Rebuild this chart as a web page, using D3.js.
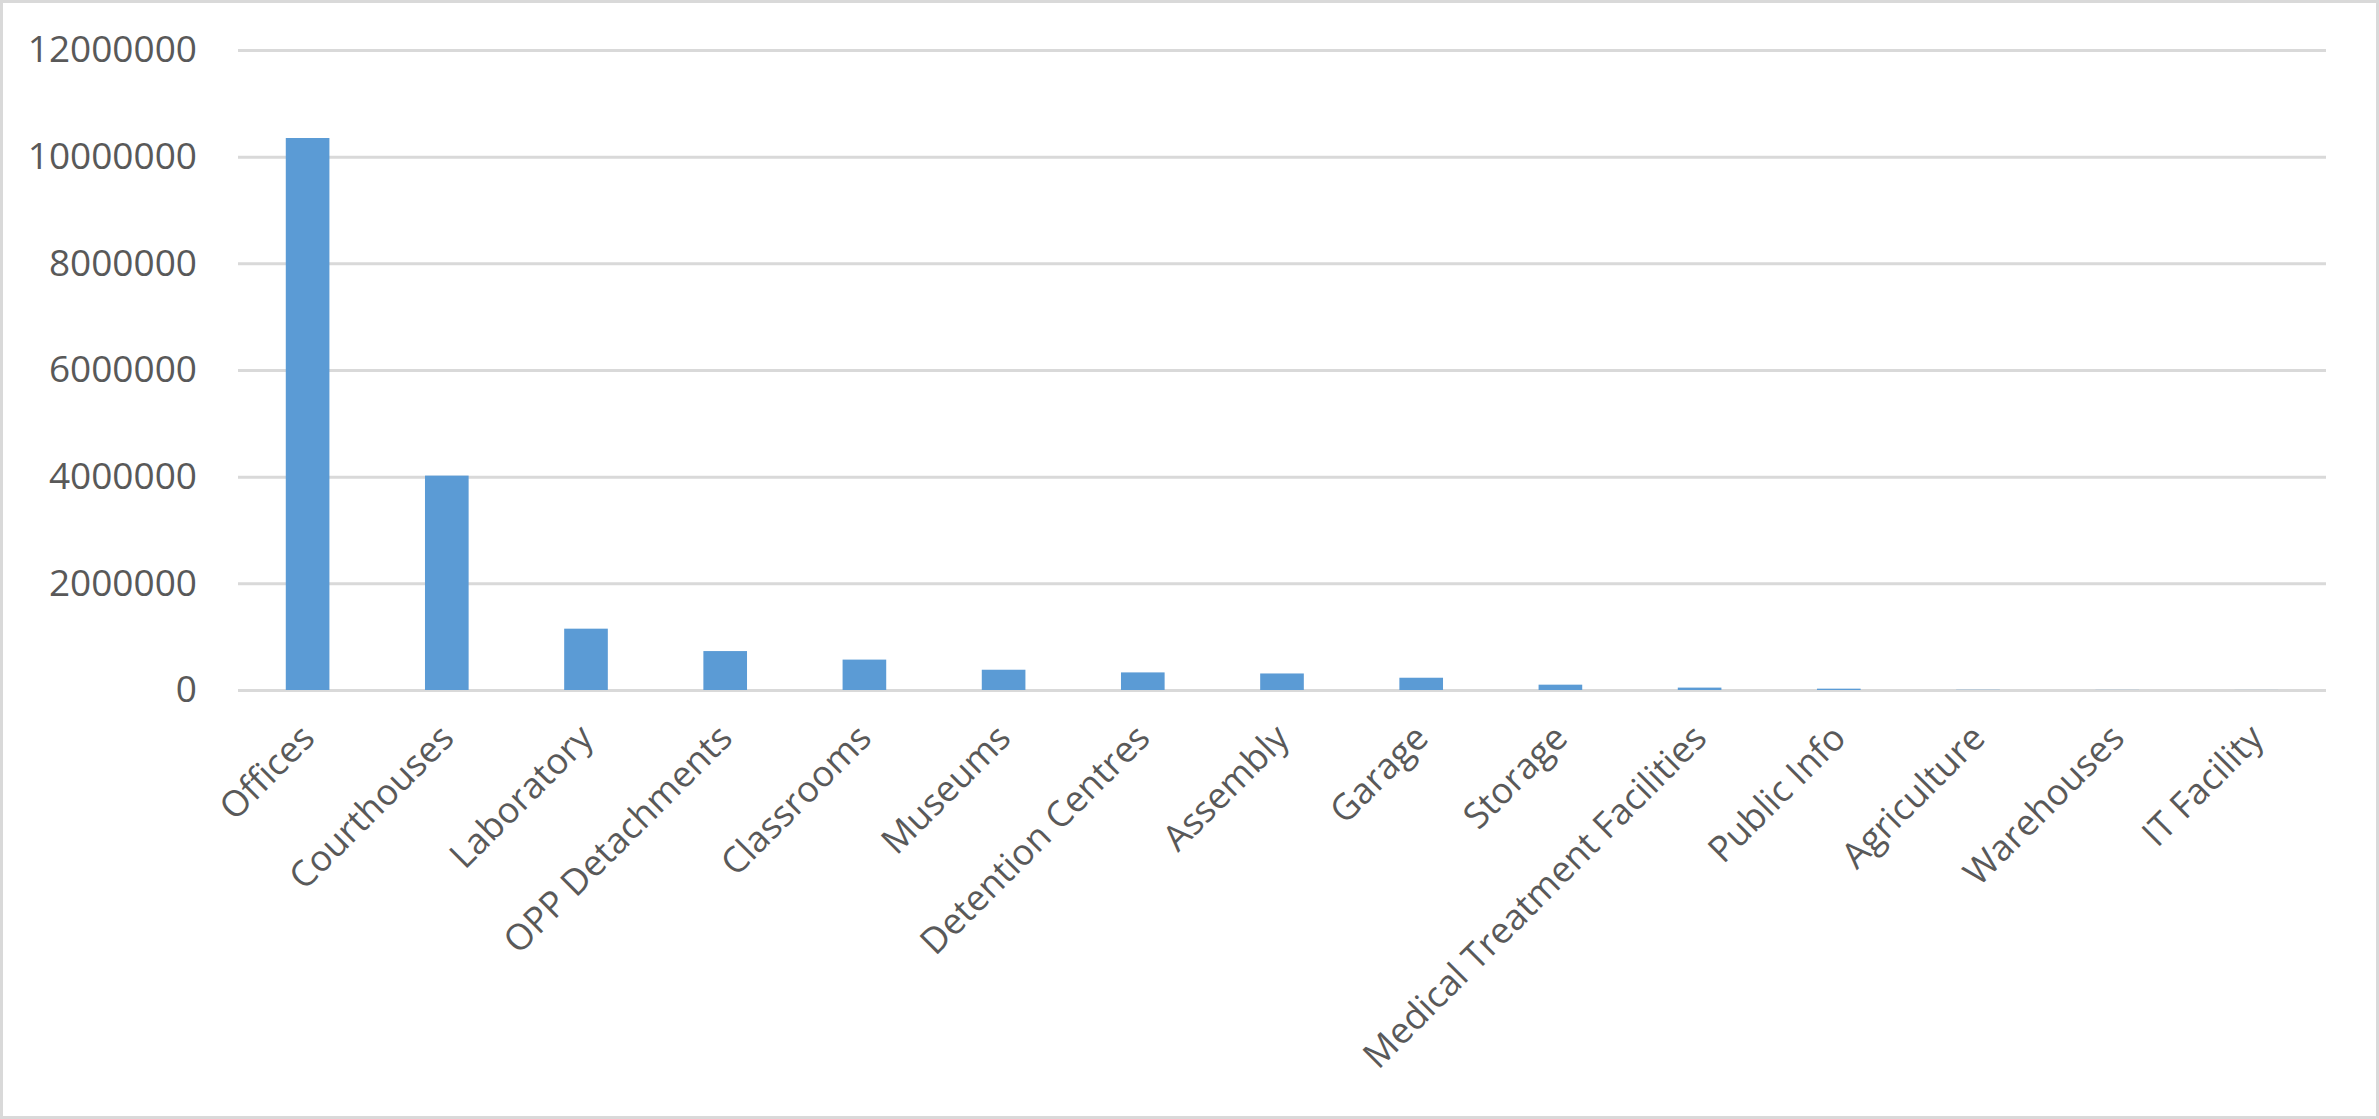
<!DOCTYPE html>
<html>
<head>
<meta charset="utf-8">
<script src="https://cdn.jsdelivr.net/npm/d3@7"></script>
<style>
  html, body { margin: 0; padding: 0; background: #fff; }
  svg { display: block; }
  text { font-family: "Open Sans", "Noto Sans", sans-serif; fill: #595959; }
</style>
</head>
<body>
<svg id="chart"></svg>
<script>
const categories = ["Offices", "Courthouses", "Laboratory", "OPP Detachments", "Classrooms",
  "Museums", "Detention Centres", "Assembly", "Garage", "Storage",
  "Medical Treatment Facilities", "Public Info", "Agriculture", "Warehouses", "IT Facility"];
const values = [10350000, 4020000, 1150000, 730000, 570000,
  380000, 330000, 310000, 230000, 100000,
  45000, 25000, 4000, 2000, 1000];
const yTicks = [0, 2000000, 4000000, 6000000, 8000000, 10000000, 12000000];

const width = 2379, height = 1119;
const margin = { top: 50, right: 53, bottom: 429, left: 238 };

const svg = d3.select("#chart").attr("width", width).attr("height", height);

svg.append("rect")
  .attr("x", 1.5).attr("y", 1.5)
  .attr("width", width - 3).attr("height", height - 3)
  .attr("fill", "#fff")
  .attr("stroke", "#d9d9d9")
  .attr("stroke-width", 3);

const x = d3.scaleBand()
  .domain(categories)
  .range([margin.left, width - margin.right])
  .paddingInner(0.6865)
  .paddingOuter(0.34325);

const y = d3.scaleLinear()
  .domain([0, 12000000])
  .range([height - margin.bottom, margin.top]);

// grid lines
const grid = svg.append("g")
  .attr("transform", `translate(${margin.left},0)`)
  .call(d3.axisLeft(y).tickValues(yTicks).tickSize(-(width - margin.left - margin.right)).tickFormat(""));
grid.select(".domain").remove();
grid.selectAll("line").attr("stroke", "#d9d9d9").attr("stroke-width", 3);

// y labels
const yAxis = svg.append("g")
  .attr("transform", `translate(${margin.left - 41},0)`)
  .call(d3.axisLeft(y).tickValues(yTicks).tickSize(0).tickPadding(0).tickFormat(d3.format("d")));
yAxis.select(".domain").remove();
yAxis.selectAll("text")
  .attr("font-size", 37)
  .attr("fill", "#595959")
  .style("font-family", "'Open Sans', 'Noto Sans', sans-serif");

// bars
svg.append("g")
  .selectAll("rect")
  .data(values)
  .join("rect")
  .attr("x", (d, i) => x(categories[i]))
  .attr("y", d => y(d))
  .attr("width", x.bandwidth())
  .attr("height", d => y(0) - y(d))
  .attr("fill", "#5b9bd5");

// x labels
const xAxis = svg.append("g")
  .attr("transform", `translate(0,${y(0)})`)
  .call(d3.axisBottom(x).tickSize(0).tickPadding(0));
xAxis.select(".domain").remove();
xAxis.selectAll("text")
  .attr("font-size", 36)
  .attr("fill", "#595959")
  .style("font-family", "'Open Sans', 'Noto Sans', sans-serif")
  .attr("text-anchor", "end")
  .attr("y", 0)
  .attr("dy", "0.75em")
  .attr("transform", "translate(-10,31) rotate(-45)");
</script>
</body>
</html>
